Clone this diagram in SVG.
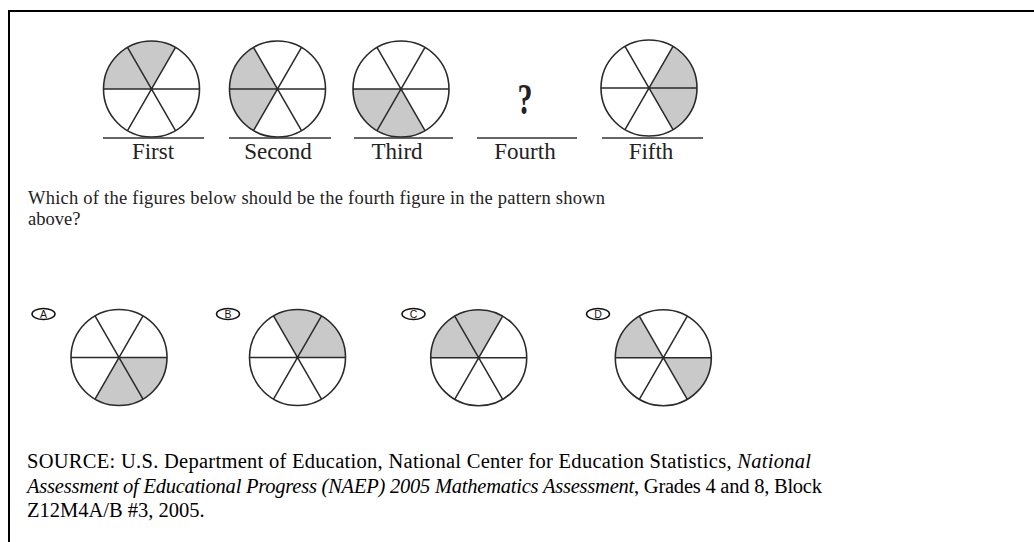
<svg xmlns="http://www.w3.org/2000/svg" xmlns:xlink="http://www.w3.org/1999/xlink" width="1034" height="542" viewBox="0 0 1034 542">
<style>
.bg{fill:#ffffff}
.frame{fill:none;stroke:#000;stroke-width:2}
.sh{fill:#c9c9c9;stroke:none}
.rim{fill:none;stroke:#2a2a2a;stroke-width:1.6}
.spk{fill:none;stroke:#2a2a2a;stroke-width:1.5}
.base{stroke:#333;stroke-width:1.6}
.lbl{font-family:"Liberation Serif","Times New Roman",serif;font-size:23px;fill:#222;text-anchor:middle}
.q{font-family:"Liberation Serif","Times New Roman",serif;font-size:18.5px;fill:#222}
.src{font-family:"Liberation Serif","Times New Roman",serif;font-size:20.5px;fill:#000}
.oval{fill:none;stroke:#111;stroke-width:1.5}
.opt{font-family:"Liberation Sans",Arial,sans-serif;font-size:10.5px;fill:#111;text-anchor:middle}
</style>
<defs>
<path id="s0" class="sh" d="M0,0 L48,0 A48,48 0 0 0 24,-41.57 Z"/>
<path id="s1" class="sh" d="M0,0 L24,-41.57 A48,48 0 0 0 -24,-41.57 Z"/>
<path id="s2" class="sh" d="M0,0 L-24,-41.57 A48,48 0 0 0 -48,0 Z"/>
<path id="s3" class="sh" d="M0,0 L-48,0 A48,48 0 0 0 -24,41.57 Z"/>
<path id="s4" class="sh" d="M0,0 L-24,41.57 A48,48 0 0 0 24,41.57 Z"/>
<path id="s5" class="sh" d="M0,0 L24,41.57 A48,48 0 0 0 48,0 Z"/>
<g id="wheel">
<path class="spk" d="M-48,0 H48 M-24,-41.57 L24,41.57 M24,-41.57 L-24,41.57"/>
<circle class="rim" cx="0" cy="0" r="48"/>
</g>
</defs>
<rect class="bg" x="0" y="0" width="1034" height="542"/>
<path class="frame" d="M9,542 V11 H1034"/>

<g id="first">
<g transform="translate(151.5,89)"><use xlink:href="#s1"/><use xlink:href="#s2"/><use xlink:href="#wheel"/></g>
<line class="base" x1="103" y1="138" x2="204" y2="138"/>
<text class="lbl" x="153" y="159">First</text>
</g>
<g id="second">
<g transform="translate(277.5,89)"><use xlink:href="#s2"/><use xlink:href="#s3"/><use xlink:href="#wheel"/></g>
<line class="base" x1="229" y1="138" x2="331" y2="138"/>
<text class="lbl" x="278" y="159">Second</text>
</g>
<g id="third">
<g transform="translate(401,89)"><use xlink:href="#s3"/><use xlink:href="#s4"/><use xlink:href="#wheel"/></g>
<line class="base" x1="354" y1="138" x2="453" y2="138"/>
<text class="lbl" x="397" y="159">Third</text>
</g>
<g id="fourth">
<text transform="translate(525,114) scale(1,1.5)" style="font-family:'Liberation Serif','Times New Roman',serif;font-size:30px;font-weight:bold;fill:#222;text-anchor:middle" x="0" y="0">?</text>
<line class="base" x1="477" y1="138" x2="577" y2="138"/>
<text class="lbl" x="525" y="159">Fourth</text>
</g>
<g id="fifth">
<g transform="translate(649,88)"><use xlink:href="#s5"/><use xlink:href="#s0"/><use xlink:href="#wheel"/></g>
<line class="base" x1="602" y1="138" x2="703" y2="138"/>
<text class="lbl" x="651" y="159">Fifth</text>
</g>

<g id="question">
<text class="q" x="28" y="203.5" textLength="577" lengthAdjust="spacing">Which of the figures below should be the fourth figure in the pattern shown</text>
<text class="q" x="28" y="224.5">above?</text>
</g>

<g id="optA">
<ellipse class="oval" cx="43.5" cy="314" rx="11.5" ry="5.5"/>
<text class="opt" x="43.5" y="317.8">A</text>
<g transform="translate(119,357.5)"><use xlink:href="#s4"/><use xlink:href="#s5"/><use xlink:href="#wheel"/></g>
</g>
<g id="optB">
<ellipse class="oval" cx="228" cy="314" rx="11.5" ry="5.5"/>
<text class="opt" x="228" y="317.8">B</text>
<g transform="translate(297.5,357.5)"><use xlink:href="#s0"/><use xlink:href="#s1"/><use xlink:href="#wheel"/></g>
</g>
<g id="optC">
<ellipse class="oval" cx="413.5" cy="314" rx="11.5" ry="5.5"/>
<text class="opt" x="413.5" y="317.8">C</text>
<g transform="translate(478.7,357.7)"><use xlink:href="#s1"/><use xlink:href="#s2"/><use xlink:href="#wheel"/></g>
</g>
<g id="optD">
<ellipse class="oval" cx="598" cy="314" rx="11.5" ry="5.5"/>
<text class="opt" x="598" y="317.8">D</text>
<g transform="translate(663.3,357.7)"><use xlink:href="#s2"/><use xlink:href="#s5"/><use xlink:href="#wheel"/></g>
</g>

<g id="source">
<text class="src" x="27" y="468" textLength="784" lengthAdjust="spacing">SOURCE: U.S. Department of Education, National Center for Education Statistics, <tspan font-style="italic">National</tspan></text>
<text class="src" x="27" y="492.5" textLength="795" lengthAdjust="spacing"><tspan font-style="italic">Assessment of Educational Progress (NAEP) 2005 Mathematics Assessment</tspan>, Grades 4 and 8, Block</text>
<text class="src" x="27" y="517">Z12M4A/B #3, 2005.</text>
</g>
</svg>
